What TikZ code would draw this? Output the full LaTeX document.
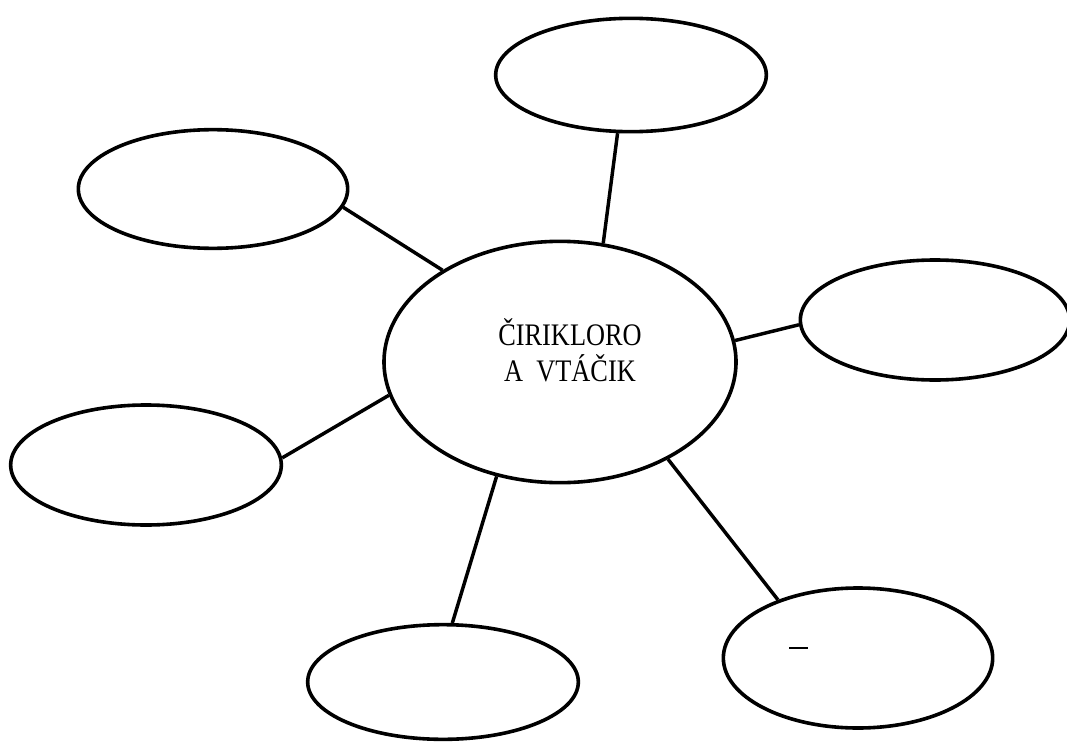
\documentclass[tikz,border=0pt]{standalone}
\usepackage{fontspec}
\setmainfont{Liberation Serif}
\usetikzlibrary{shapes.geometric}
\tikzset{
  bubble/.style={draw=black, ellipse, line width=2.7pt, inner sep=0pt, fill=white},
  link/.style={draw=black, line width=2.6pt},
  title/.style={font=\fontsize{23.5pt}{27pt}\selectfont, align=center, xscale=0.84, inner sep=0pt}
}
\begin{document}
\begin{tikzpicture}[x=0.75pt, y=-0.75pt]
  \useasboundingbox[fill=white] (0,0) rectangle (1067,742);
  \node[bubble, minimum width=264pt, minimum height=181pt] (c) at (560,362) {};
  \node[title] (ct) at (570,350) {ČIRIKLORO\\A\ \ VTÁČIK};
  \node[bubble, minimum width=203pt, minimum height=85pt] (t) at (631,75) {};
  \node[bubble, minimum width=202pt, minimum height=89pt] (ul) at (213,189) {};
  \node[bubble, minimum width=202pt, minimum height=90pt] (r) at (935,320) {};
  \node[bubble, minimum width=203pt, minimum height=90pt] (l) at (146,465) {};
  \node[bubble, minimum width=203pt, minimum height=86pt] (b) at (443,682) {};
  \node[bubble, minimum width=202pt, minimum height=105pt] (br) at (858,658) {};
  \draw[link] (c.70) -- (t.257);
  \draw[link] (c.142) -- (ul.352);
  \draw[link] (c.7) -- (r.182);
  \draw[link] (c.191) -- (l.3);
  \draw[link] (c.241) -- (b.81);
  \draw[link] (c.318) -- (br.144);
  \coordinate (d1) at (789,648);
  \coordinate (d2) at (808,648);
  \draw[line width=1.2pt] (d1) -- (d2);
\end{tikzpicture}
\end{document}
